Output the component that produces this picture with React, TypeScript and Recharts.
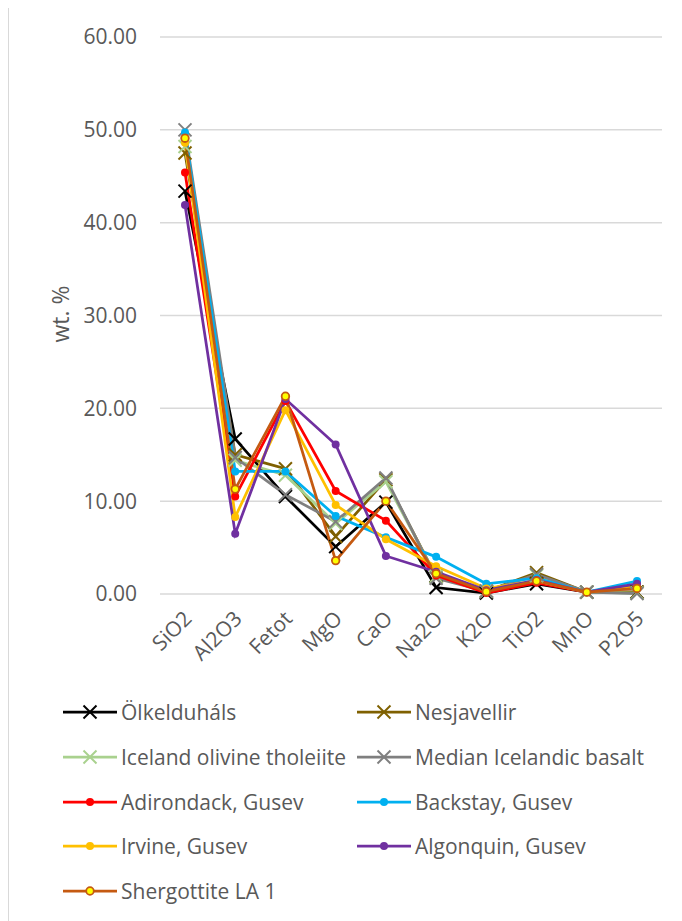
import { CartesianGrid, Line, LineChart, XAxis, YAxis } from "recharts";

const oxides = ["SiO2", "Al2O3", "Fetot", "MgO", "CaO", "Na2O", "K2O", "TiO2", "MnO", "P2O5"];
const yTicks = [0, 10, 20, 30, 40, 50, 60];

const olkelduhals = [43.4, 16.7, 10.5, 5.1, 9.9, 0.7, 0.1, 1.1, 0.2, 0.2];
const nesjavellir = [47.5, 15.0, 13.5, 6.2, 12.3, 1.9, 0.3, 2.3, 0.2, 0.2];
const icelandOlivineTholeiite = [48.2, 14.4, 12.8, 7.6, 12.1, 1.9, 0.3, 2.0, 0.2, 0.1];
const medianIcelandicBasalt = [50.0, 14.7, 10.7, 7.8, 12.5, 1.7, 0.3, 2.1, 0.2, 0.05];
const adirondack = [45.4, 10.5, 20.8, 11.1, 7.9, 2.0, 0.1, 1.2, 0.2, 0.9];
const backstay = [49.7, 13.2, 13.2, 8.4, 6.1, 4.0, 1.1, 1.7, 0.2, 1.4];
const irvine = [48.6, 8.3, 19.8, 9.6, 5.9, 3.0, 0.6, 1.4, 0.2, 0.8];
const algonquin = [41.9, 6.5, 21.0, 16.1, 4.1, 2.4, 0.4, 1.5, 0.2, 1.1];
const shergottite = [49.1, 11.3, 21.3, 3.6, 10.0, 2.2, 0.25, 1.4, 0.2, 0.6];

type Marker = "x" | "dot" | "ring";

const series: { key: string; name: string; values: number[]; color: string; marker: Marker }[] = [
  { key: "olk", name: "Ölkelduháls", values: olkelduhals, color: "#000000", marker: "x" },
  { key: "nes", name: "Nesjavellir", values: nesjavellir, color: "#7F6000", marker: "x" },
  { key: "iot", name: "Iceland olivine tholeiite", values: icelandOlivineTholeiite, color: "#A9D18E", marker: "x" },
  { key: "mib", name: "Median Icelandic basalt", values: medianIcelandicBasalt, color: "#7F7F7F", marker: "x" },
  { key: "adi", name: "Adirondack, Gusev", values: adirondack, color: "#FF0000", marker: "dot" },
  { key: "bac", name: "Backstay, Gusev", values: backstay, color: "#00B0F0", marker: "dot" },
  { key: "irv", name: "Irvine, Gusev", values: irvine, color: "#FFC000", marker: "dot" },
  { key: "alg", name: "Algonquin, Gusev", values: algonquin, color: "#7030A0", marker: "dot" },
  { key: "she", name: "Shergottite LA 1", values: shergottite, color: "#C55A11", marker: "ring" },
];

const data = oxides.map((oxide, i) => {
  const row: Record<string, string | number> = { oxide };
  series.forEach((s) => {
    row[s.key] = s.values[i];
  });
  return row;
});

const FONT = "'Open Sans', sans-serif";
const TEXT = "#595959";

function MarkerShape({ cx, cy, color, marker }: { cx: number; cy: number; color: string; marker: Marker }) {
  if (marker === "x") {
    const h = 6.5;
    return (
      <g>
        <line x1={cx - h} y1={cy - h} x2={cx + h} y2={cy + h} stroke={color} strokeWidth={2} />
        <line x1={cx - h} y1={cy + h} x2={cx + h} y2={cy - h} stroke={color} strokeWidth={2} />
      </g>
    );
  }
  if (marker === "ring") {
    return <circle cx={cx} cy={cy} r={3.8} fill="#FFFF00" stroke={color} strokeWidth={1.8} />;
  }
  return <circle cx={cx} cy={cy} r={4} fill={color} stroke="none" />;
}

const dotFor = (color: string, marker: Marker) => (props: any) => (
  <MarkerShape key={`m-${props.index}`} cx={props.cx} cy={props.cy} color={color} marker={marker} />
);

function OxideTick({ x, y, payload }: any) {
  const px = x + 8;
  const py = y + 24;
  return (
    <text
      x={px}
      y={py}
      transform={`rotate(-45 ${px} ${py})`}
      textAnchor="end"
      fill={TEXT}
      fontSize={21}
      fontFamily={FONT}
    >
      {payload.value}
    </text>
  );
}

function LegendItem({ s }: { s: (typeof series)[number] }) {
  return (
    <div style={{ display: "flex", alignItems: "center", height: 30 }}>
      <svg width={54} height={16} style={{ display: "block" }}>
        <line x1={0} y1={8} x2={54} y2={8} stroke={s.color} strokeWidth={2.75} />
        <MarkerShape cx={27} cy={8} color={s.color} marker={s.marker} />
      </svg>
      <span style={{ marginLeft: 4, fontFamily: FONT, fontSize: 21, color: TEXT, whiteSpace: "nowrap" }}>{s.name}</span>
    </div>
  );
}

export default function App() {
  return (
    <div
      style={{
        position: "relative",
        width: 673,
        height: 914,
        marginTop: -2,
        borderLeft: "1px solid #d9d9d9",
        borderTop: "1px solid #d9d9d9",
        background: "#fff",
        overflow: "hidden",
      }}
    >
      <LineChart width={672} height={667} data={data} margin={{ top: 30, right: 19, left: 0, bottom: 0 }}>
        <CartesianGrid vertical={false} stroke="#d9d9d9" strokeWidth={1.5} />
        <XAxis
          dataKey="oxide"
          interval={0}
          height={80}
          padding={{ left: 25, right: 25 }}
          tickLine={false}
          axisLine={false}
          tickSize={0}
          tick={<OxideTick />}
        />
        <YAxis
          domain={[0, 60]}
          ticks={yTicks}
          width={151}
          tickLine={false}
          axisLine={false}
          tickSize={0}
          tickMargin={23}
          tickFormatter={(v: number) => v.toFixed(2)}
          tick={{ fill: TEXT, fontSize: 21, fontFamily: FONT }}
        />
        {series.map((s) => (
          <Line
            key={s.key}
            dataKey={s.key}
            name={s.name}
            type="linear"
            stroke={s.color}
            strokeWidth={2.75}
            dot={dotFor(s.color, s.marker)}
            activeDot={false}
            isAnimationActive={false}
          />
        ))}
      </LineChart>
      <div
        style={{
          position: "absolute",
          left: 51,
          top: 307,
          transform: "translate(-50%, -50%) rotate(-90deg)",
          fontFamily: FONT,
          fontSize: 23,
          color: TEXT,
          whiteSpace: "nowrap",
        }}
      >
        wt. %
      </div>
      <div
        style={{
          position: "absolute",
          left: 54,
          top: 690,
          display: "grid",
          gridTemplateColumns: "294px auto",
          rowGap: 14.75,
        }}
      >
        {series.map((s) => (
          <LegendItem key={s.key} s={s} />
        ))}
      </div>
    </div>
  );
}
